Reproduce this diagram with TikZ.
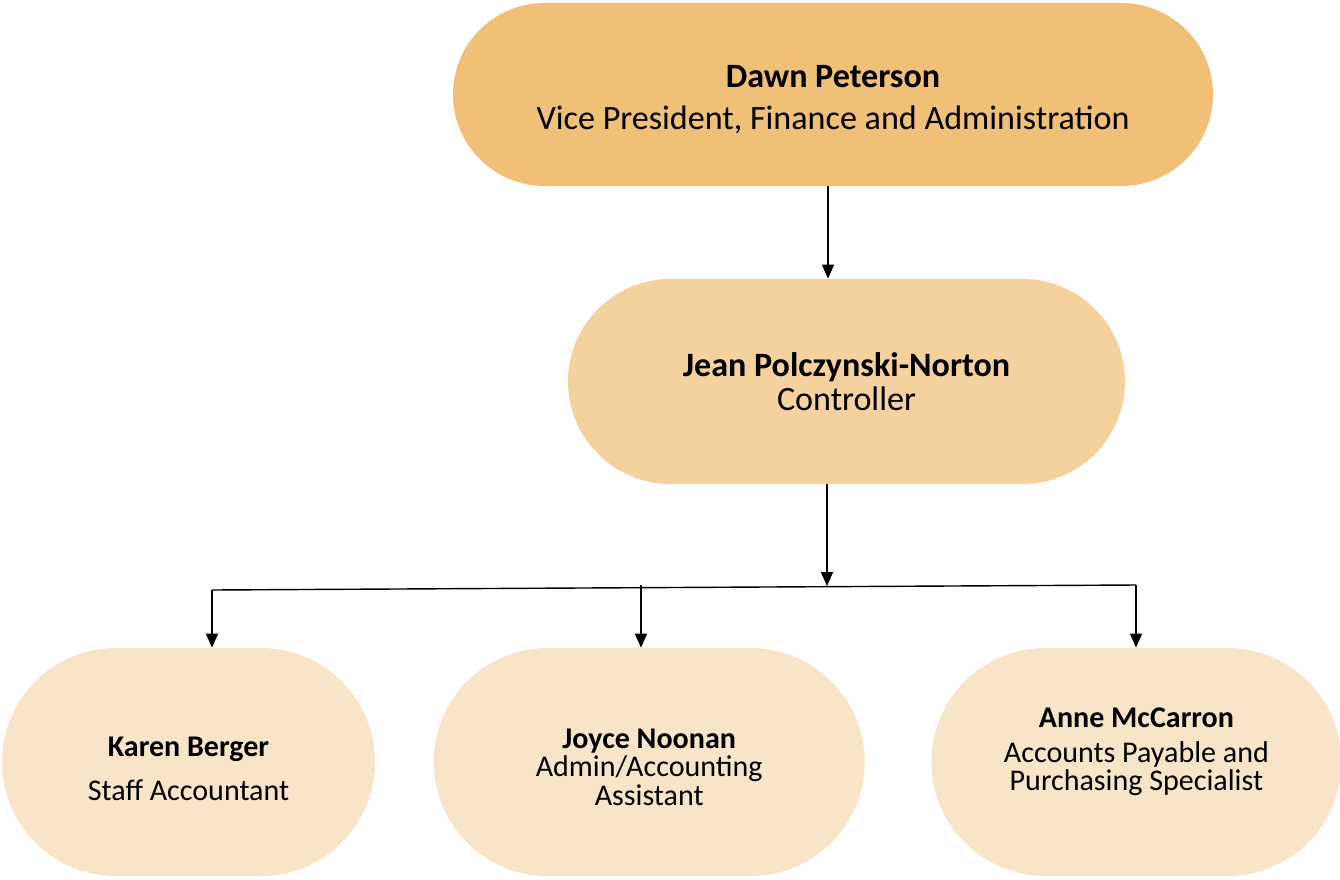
\documentclass[tikz,border=0pt]{standalone}
\usepackage{fontspec}
\setmainfont{Carlito}
\usepackage{xcolor}
\usetikzlibrary{positioning,arrows.meta,calc}

\definecolor{vpfill}{RGB}{240,192,119}
\definecolor{ctrlfill}{RGB}{244,209,157}
\definecolor{stafffill}{RGB}{248,229,200}

\begin{document}
\begin{tikzpicture}[
			pill/.style={
				rectangle, align=center, inner sep=0pt
			},
			vpbox/.style={
				pill, fill=vpfill, rounded corners=1.83cm,
				minimum width=15.2cm, minimum height=3.66cm,
				font=\fontsize{19.4}{24}\selectfont
			},
			ctrlbox/.style={
				pill, fill=ctrlfill, rounded corners=2.05cm,
				minimum width=11.14cm, minimum height=4.1cm,
				font=\fontsize{19.4}{19}\selectfont
			},
			staffbox/.style={
				pill, fill=stafffill, rounded corners=2.28cm,
				minimum height=4.56cm,
				font=\fontsize{17.1}{16}\selectfont
			},
			arr/.style={-{Triangle[length=0.28cm,width=0.24cm]}, line width=0.8pt}
			]
			\useasboundingbox (0,0) rectangle (26.8,-17.58);
			
			%==================== VP ====================
			\node[vpbox] (vp) at (16.66,-1.89) {
				\rule{0pt}{0.66cm}\textbf{Dawn Peterson}\\
				Vice President, Finance and Administration
			};
			
			%==================== Controller ====================
			\node[ctrlbox] (ctrl) at (16.93,-7.63) {
				\textbf{Jean Polczynski-Norton}\\
				Controller
			};
			
			%==================== Staff ====================
			\node[staffbox, minimum width=7.46cm] (karen) at (3.77,-15.24) {
				\rule{0pt}{0.68cm}\textbf{Karen Berger}\\[0.32cm]
				Staff Accountant
			};
			
			\node[staffbox, minimum width=8.62cm, right=1.16cm of karen] (joyce) {
				\rule{0pt}{0.6cm}\textbf{Joyce Noonan}\\
				Admin/Accounting\\
				Assistant
			};
			
			\node[staffbox, minimum width=8.2cm, right=1.32cm of joyce] (anne) {
				\textbf{Anne McCarron}\\[0.12cm]
				Accounts Payable and\\
				Purchasing Specialist\\[-0.05cm]
			};
			
			%==================== Connectors ====================
			\coordinate (vpdrop) at ($(vp.south)+(-0.1,0)$);
			\coordinate (bus) at (16.54,-11.72);
			\coordinate (tapK) at (4.24,-11.8);
			\coordinate (tapJ) at (12.82,-11.7);
			\coordinate (tapA) at (22.72,-11.7);
			
			\draw[arr] (vpdrop) -- (vpdrop |- ctrl.north);
			\draw[arr] (bus |- ctrl.south) -- (bus);
			\draw[line width=0.8pt] (tapK) -- (tapA);
			\draw[arr] (tapK) -- (tapK |- karen.north);
			\draw[arr] (tapJ) -- (tapJ |- joyce.north);
			\draw[arr] (tapA) -- (tapA |- anne.north);
			
		\end{tikzpicture}
\end{document}
